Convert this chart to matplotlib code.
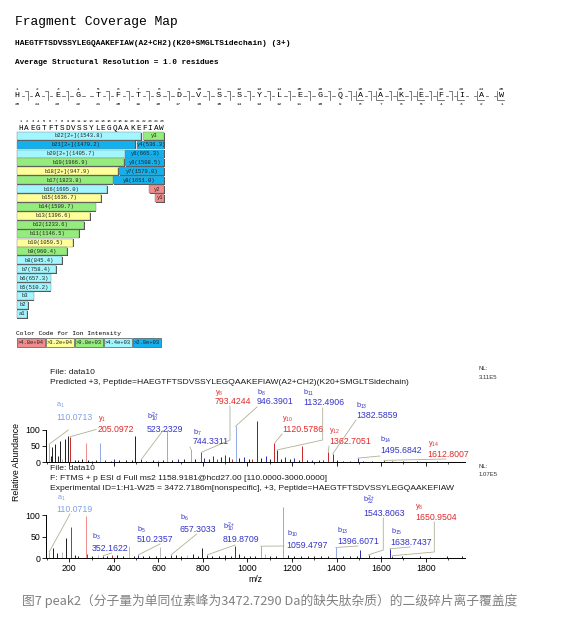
import matplotlib
matplotlib.use("Agg")
import matplotlib.pyplot as plt
from matplotlib.patches import Rectangle

plt.rcParams['font.family'] = ['Liberation Sans', 'DejaVu Sans']
plt.rcParams['mathtext.fontset'] = 'custom'
plt.rcParams['mathtext.rm'] = 'Liberation Sans'
plt.rcParams['mathtext.it'] = 'Liberation Sans'
plt.rcParams['mathtext.bf'] = 'Liberation Sans:bold'

# ---------------------------------------------------------------- data
title = "Fragment Coverage Map"
peptide_line = "HAEGTFTSDVSSYLEGQAAKEFIAW(A2+CH2)(K20+SMGLTSidechain) (3+)"
resolution_line = "Average Structural Resolution = 1.0 residues"
sequence = list("HAEGTFTSDVSSYLEGQAAKEFIAW")
b_sites = [1, 2, 3, 5, 6, 7, 8, 9, 10, 11, 12, 13, 14, 15, 16, 17, 18, 19, 20, 21, 22]
y_sites = [17, 18, 19, 20, 21, 22, 23, 24]

b_labels = ['b22[2+](1543.8)', 'b21[2+](1470.2)', 'b20[2+](1405.7)', 'b19(1966.9)',
            'b18[2+](947.9)', 'b17(1823.8)', 'b16(1695.0)', 'b15(1636.7)', 'b14(1509.7)',
            'b13(1396.6)', 'b12(1233.6)', 'b11(1146.5)', 'b10(1059.5)', 'b9(960.4)',
            'b8(845.4)', 'b7(758.4)', 'b6(657.3)', 'b5(510.2)', 'b3', 'b2', 'a1']
b_lengths = [22, 21, 20, 19, 18, 17, 16, 15, 14, 13, 12, 11, 10, 9, 8, 7, 6, 5, 3, 2, 1]
b_classes = ['c', 'b', 'c', 'g', 'y', 'g', 'c', 'y', 'g', 'y', 'g', 'g', 'y', 'g',
             'c', 'c', 'c', 'c', 'c', 'c', 'c']
y_labels = ['y3', 'y4(536.3)', 'y6(665.3)', 'y6(1508.5)', 'y7(1579.0)', 'y8(1651.0)', 'y2', 'y1']
y_lengths = [3, 4, 6, 6, 7, 8, 2, 1]
y_rows = [0, 1, 2, 3, 4, 5, 6, 7]
y_classes = ['g', 'b', 'b', 'b', 'b', 'b', 'r', 'r']

legend_title = "Color Code for Ion Intensity"
legend_labels = [">4.8e+04", ">3.2e+04", ">9.8e+03", ">4.4e+03", ">2.0e+03"]
legend_classes = ['r', 'y', 'g', 'c', 'b']

# top spectrum (predicted, +3)
top_mz = [110.07, 118, 123, 136, 148, 158, 165, 181, 196, 205.10, 225, 240, 258, 276, 285,
          300, 320, 339, 362, 385, 400, 425, 455, 480, 496, 523.23, 545, 575, 600, 622,
          638, 660, 690, 715, 744.33, 765, 793.42, 805, 825, 845, 862, 880, 898, 915, 930,
          946.39, 962, 985, 1005, 1020, 1041, 1060, 1085, 1100, 1120.58, 1132.49, 1150,
          1170, 1190, 1210, 1230, 1243, 1265, 1290, 1320, 1340, 1362.71, 1382.59, 1400,
          1430, 1460, 1495.68, 1520, 1560, 1612.80, 1650, 1700, 1760, 1850]
top_int = [55, 18, 45, 55, 20, 65, 10, 72, 80, 78, 6, 5, 8, 58, 5,
           4, 6, 60, 6, 4, 8, 5, 6, 5, 80, 8, 4, 6, 5, 5,
           100, 6, 8, 10, 40, 8, 30, 12, 10, 18, 8, 15, 22, 14, 10,
           110, 12, 15, 10, 8, 125, 12, 18, 10, 57, 37, 10,
           14, 8, 12, 6, 50, 6, 5, 5, 6, 31, 25, 5,
           4, 4, 12, 4, 3, 5, 3, 2, 2, 2]
top_col = ['l', 'k', 'k', 'k', 'k', 'k', 'g', 'k', 'k', 'r', 'k', 'k', 'k', 'p', 'k',
           'k', 'k', 'l', 'b', 'k', 'b', 'k', 'k', 'k', 'k', 'b', 'k', 'k', 'l', 'k',
           'l', 'k', 'b', 'k', 'l', 'k', 'r', 'b', 'k', 'b', 'r', 'k', 'b', 'k', 'r',
           'l', 'k', 'b', 'k', 'r', 'b', 'k', 'b', 'k', 'r', 'b', 'k',
           'b', 'k', 'b', 'k', 'r', 'k', 'b', 'k', 'b', 'r', 'b', 'k',
           'k', 'b', 'b', 'k', 'k', 'r', 'k', 'k', 'k', 'k']

# bottom spectrum (experimental)
bot_mz = [110.07, 128, 146, 166, 185, 206, 225, 240, 275, 281, 300, 330, 352.16, 370, 390,
          415, 440, 468, 490, 510.24, 530, 560, 590, 607, 630, 657.30, 680, 700, 730, 756,
          780, 797, 819.87, 840, 870, 900, 925, 944, 960, 985, 1010, 1035, 1059.48, 1080,
          1100, 1130, 1160, 1180, 1210, 1240, 1270, 1300, 1330, 1360, 1396.61, 1430, 1460,
          1490, 1505, 1543.81, 1570, 1600, 1638.74, 1650.95, 1692, 1774, 1820, 1894, 1962]
bot_int = [15, 23, 13, 15, 48, 73, 8, 6, 98, 10, 5, 8, 6, 5, 8,
           8, 5, 28, 5, 8, 6, 5, 6, 27, 6, 8, 8, 6, 8, 10,
           6, 23, 8, 5, 6, 8, 6, 28, 10, 6, 5, 6, 28, 10,
           6, 5, 118, 8, 6, 5, 6, 5, 6, 5, 25, 5, 6,
           5, 20, 8, 4, 6, 22, 6, 6, 6, 4, 6, 5]
bot_col = ['l', 'k', 'k', 'g', 'k', 'r', 'k', 'k', 'p', 'r', 'k', 'g', 'b', 'k', 'r',
           'k', 'k', 'g', 'k', 'b', 'k', 'k', 'k', 'g', 'k', 'b', 'k', 'k', 'g', 'k',
           'k', 'k', 'b', 'k', 'k', 'k', 'k', 'b', 'k', 'k', 'k', 'k', 'l', 'g',
           'k', 'k', 'l', 'k', 'k', 'k', 'k', 'k', 'k', 'k', 'l', 'k', 'k',
           'k', 'b', 'b', 'k', 'k', 'b', 'r', 'k', 'k', 'k', 'k', 'k']

top_ann_label = [r'a$_{1}$', r'y$_{1}$', r'b$_{10}^{2+}$', r'b$_{7}$', r'y$_{8}$', r'b$_{8}$',
                 r'b$_{11}$', r'y$_{10}$', r'b$_{13}$', r'y$_{12}$', r'b$_{14}$', r'y$_{14}$']
top_ann_mz = [110.0713, 205.0972, 523.2329, 744.3311, 793.4244, 946.3901,
              1132.4906, 1120.5786, 1382.5859, 1362.7051, 1495.6842, 1612.8007]
top_ann_int = [55, 78, 8, 40, 30, 110, 37, 57, 25, 31, 12, 5]
top_ann_col = ['l', 'r', 'b', 'b', 'r', 'b', 'b', 'r', 'b', 'r', 'b', 'r']

bot_ann_label = [r'a$_{1}$', r'b$_{3}$', r'b$_{5}$', r'b$_{6}$', r'b$_{10}^{2+}$', r'b$_{10}$',
                 r'b$_{13}$', r'b$_{22}^{2+}$', r'y$_{8}$', r'b$_{15}$']
bot_ann_mz = [110.0719, 352.1622, 510.2357, 657.3033, 819.8709, 1059.4797,
              1396.6071, 1543.8063, 1650.9504, 1638.7437]
bot_ann_int = [15, 6, 8, 8, 8, 28, 25, 8, 6, 22]
bot_ann_col = ['l', 'b', 'b', 'b', 'b', 'b', 'b', 'b', 'r', 'b']

caption = "图7 peak2（分子量为单同位素峰为3472.7290 Da的缺失肽杂质）的二级碎片离子覆盖度"

# ---------------------------------------------------------------- styles / layout
bar_colors = {'r': '#f28c8c', 'y': '#ffff99', 'g': '#94ec7c', 'c': '#a2f6ff', 'b': '#12b0ec'}
peak_colors = {'k': '#1e1e1e', 'r': '#c8262a', 'b': '#2a2aa8', 'l': '#90a8e6',
               'p': '#f08a8a', 'g': '#b8b8b8'}
text_colors = {'r': '#e02a2a', 'b': '#3434c8', 'l': '#80a0e8'}
lead_col = '#b0b095'
MONO = 'Liberation Mono'

W, H = 561, 624
fig = plt.figure(figsize=(W / 100, H / 100), dpi=100)
fig.patch.set_facecolor('white')


def rect(left, top, right, bottom):
    return [left / W, 1 - bottom / H, (right - left) / W, (bottom - top) / H]


XMIN, XMAX = 95.4, 1976.5
ax1 = fig.add_axes(rect(46, 419.75, 465, 462))
ax2 = fig.add_axes(rect(46, 504.2, 465, 558.3))
ov = fig.add_axes([0, 0, 1, 1], zorder=5)
ov.set_xlim(0, W)
ov.set_ylim(H, 0)
ov.axis('off')


def style(ax, ymax, labels):
    ax.set_xlim(XMIN, XMAX)
    ax.set_ylim(0, ymax)
    ax.patch.set_alpha(0)
    for s in ['top', 'right']:
        ax.spines[s].set_visible(False)
    ax.spines['left'].set_bounds(0, 100)
    for s in ['left', 'bottom']:
        ax.spines[s].set_linewidth(0.7)
    ax.set_yticks([0, 50, 100])
    ax.set_xticks(range(200, 2000, 200))
    ax.set_xticks(range(100, 2000, 100), minor=True)
    ax.tick_params(axis='both', labelsize=6.3, length=3, width=0.6, pad=1.2)
    ax.tick_params(which='minor', length=1.6, width=0.5)
    if not labels:
        ax.set_xticklabels([])


style(ax1, 130, False)
style(ax2, 125, True)
ax1.vlines(top_mz, 0, top_int, colors=[peak_colors[c] for c in top_col], linewidth=0.7, clip_on=False)
ax2.vlines(bot_mz, 0, bot_int, colors=[peak_colors[c] for c in bot_col], linewidth=0.7, clip_on=False)
ax2.set_xlabel('m/z', fontsize=6.3, labelpad=1)

# ---------------------------------------------------------------- header texts
ov.text(15, 22.5, title, family=MONO, fontsize=9.4, va='center', ha='left')
ov.text(15, 43.5, peptide_line, family=MONO, fontsize=5.7, weight='bold', va='center')
ov.text(15, 62.7, resolution_line, family=MONO, fontsize=5.6, weight='bold', va='center')

# sequence with cleavage brackets
SX0, SDX, SY = 17.3, 20.18, 95.7
n = len(sequence)
for i, aa in enumerate(sequence):
    x = SX0 + SDX * i
    ov.text(x, SY, aa, family=MONO, fontsize=6, ha='center', va='center')
    ov.text(x, 88.6, str(i + 1), family=MONO, fontsize=3.2, ha='center', va='center')
    ov.text(x, 104.2, str(n - i), family=MONO, fontsize=3.2, ha='center', va='center')
lk = dict(color='#444444', lw=0.5)
for g in range(1, n):
    xg = SX0 + SDX * (g - 1)
    ov.plot([xg + 4.5, xg + 7], [SY, SY], **lk)
    ov.plot([xg + 12.5, xg + 15], [SY, SY], **lk)
    if g in b_sites:
        ov.plot([xg + 8, xg + 10.5, xg + 10.5], [91, 91, 100], **lk)
    if g in y_sites:
        ov.plot([xg + 16, xg + 16, xg + 23], [91, 100, 100], **lk)

# coverage map
CX0, CDX = 20.7, 5.875
for i, aa in enumerate(sequence):
    x = CX0 + CDX * i
    ov.text(x, 120.5, str(i + 1), family=MONO, fontsize=2.8, ha='center', va='center')
    ov.text(x, 128.5, aa, family=MONO, fontsize=5.6, ha='center', va='center')

BL, BW, RIGHT = 16.7, 5.64, 164.5
ROW0, PITCH, BH = 135.7, 8.9, 8.0
CHW = 3.33


def draw_bar(x0, x1, yc, color, label):
    ov.add_patch(Rectangle((x0 + 0.8, yc - BH / 2 + 0.8), x1 - x0, BH, facecolor='#505050',
                           edgecolor='none', zorder=1))
    ov.add_patch(Rectangle((x0, yc - BH / 2), x1 - x0, BH, facecolor=color,
                           edgecolor='#808080', linewidth=0.3, zorder=2))
    ov.text((x0 + x1) / 2, yc, label, family=MONO, fontsize=4, ha='center', va='center',
            color='#222222', zorder=3)


y_start = {}
for lab, ln, row, cl in zip(y_labels, y_lengths, y_rows, y_classes):
    wdt = ln * 6.0 + 3
    y_start[row] = RIGHT - wdt
    draw_bar(RIGHT - wdt, RIGHT, ROW0 + PITCH * row, bar_colors[cl], lab)
for row, (lab, ln, cl) in enumerate(zip(b_labels, b_lengths, b_classes)):
    wdt = max(ln * BW, len(lab) * CHW + 4)
    x1 = BL + wdt
    if row in y_start:
        x1 = min(x1, y_start[row] - 0.5)
    draw_bar(BL, x1, ROW0 + PITCH * row, bar_colors[cl], lab)

ov.text(16, 333, legend_title, family=MONO, fontsize=4.5, va='center')
for k, (lab, cl) in enumerate(zip(legend_labels, legend_classes)):
    x0 = 16.7 + 29.1 * k
    ov.add_patch(Rectangle((x0, 338), 28, 8.5, facecolor=bar_colors[cl], edgecolor='#555555',
                           linewidth=0.5))
    ov.text(x0 + 14, 342.3, lab, family=MONO, fontsize=4, ha='center', va='center', color='#222222')

# ---------------------------------------------------------------- spectrum texts
tk = dict(fontsize=6.1, va='center', ha='left', color='#1a1a1a')
ov.text(50, 373, "File: data10", **tk)
ov.text(50, 382.5, "Predicted +3, Peptide=HAEGTFTSDVSSYLEGQAAKEFIAW(A2+CH2)(K20+SMGLTSidechain)", **tk)
ov.text(50, 468, "File: data10", **tk)
ov.text(50, 478, "F: FTMS + p ESI d Full ms2 1158.9181@hcd27.00 [110.0000-3000.0000]", **tk)
ov.text(50, 488, "Experimental ID=1:H1-W25 = 3472.7186m[nonspecific], +3, Peptide=HAEGTFTSDVSSYLEGQAAKEFIAW", **tk)
sk = dict(fontsize=4.3, va='center', ha='left', color='#333333')
ov.text(479, 369, "NL:", **sk)
ov.text(479, 377.5, "3.11E5", **sk)
ov.text(479, 466, "NL:", **sk)
ov.text(479, 475, "1.07E5", **sk)
ov.text(17, 462, "Relative Abundance", rotation=90, fontsize=6.3, ha='center', va='center')

top_lab_pos = [(56, 405.7, 417), (98, 419, 429), (146.7, 417.5, 429.5), (192.7, 432.5, 442),
               (215, 393, 402), (257, 393, 401.5), (303, 393, 402.5), (282, 419, 429),
               (356, 405.7, 415), (329, 430.7, 441), (380, 440, 450.7), (427.7, 444, 454.7)]
top_lead = [[(68.3, 430)], [(96, 429.5)], [(163, 430.5)], [(190, 447)],
            [(230, 406), (230, 440)], [(257, 407)], [(322.7, 408), (322.7, 440)], [(282, 434)],
            [(356, 420)], [(329, 446)], [(380, 456)], [(446, 459)]]
bot_lab_pos = [(56.7, 498.5, 509.3), (91.7, 536.8, 548.3), (137, 530.2, 540), (180, 517.8, 529),
               (223, 527.5, 540), (286.7, 533.5, 545), (337, 531.2, 541.7), (363, 500.8, 513.3),
               (415, 507.5, 517.3), (390.7, 531.5, 542.7)]
bot_lead = [[(70, 514)], [(111.7, 553)], [(160, 544)], [(196.7, 534)], [(235, 545)],
            [(284, 546)], [(358, 546)], [(383.3, 518), (383.3, 550)],
            [(434.3, 522), (434.3, 552)], [(410, 547)]]


def annotate(ax, labels, mzs, ints, cols, pos, leads):
    for lab, mz, it, cl, (lx, ly, vy), wp in zip(labels, mzs, ints, cols, pos, leads):
        c = text_colors[cl]
        ov.text(lx, ly, lab, fontsize=5.2, color=c, va='center', ha='left')
        ov.text(lx, vy, f"{mz:.4f}", fontsize=6.3, color=c, va='center', ha='left')
        dx, dy = ax.transData.transform((mz, it))
        xs = [p[0] for p in wp] + [dx]
        ys = [p[1] for p in wp] + [H - dy]
        ov.plot(xs, ys, color=lead_col, lw=0.6, zorder=1)


annotate(ax1, top_ann_label, top_ann_mz, top_ann_int, top_ann_col, top_lab_pos, top_lead)
annotate(ax2, bot_ann_label, bot_ann_mz, bot_ann_int, bot_ann_col, bot_lab_pos, bot_lead)

ov.text(22, 601, caption, family=['Noto Sans CJK SC', 'DejaVu Sans'], fontsize=9.2,
        color='#808080', va='center', ha='left')

fig.savefig('out.png', dpi=100, facecolor='white')
